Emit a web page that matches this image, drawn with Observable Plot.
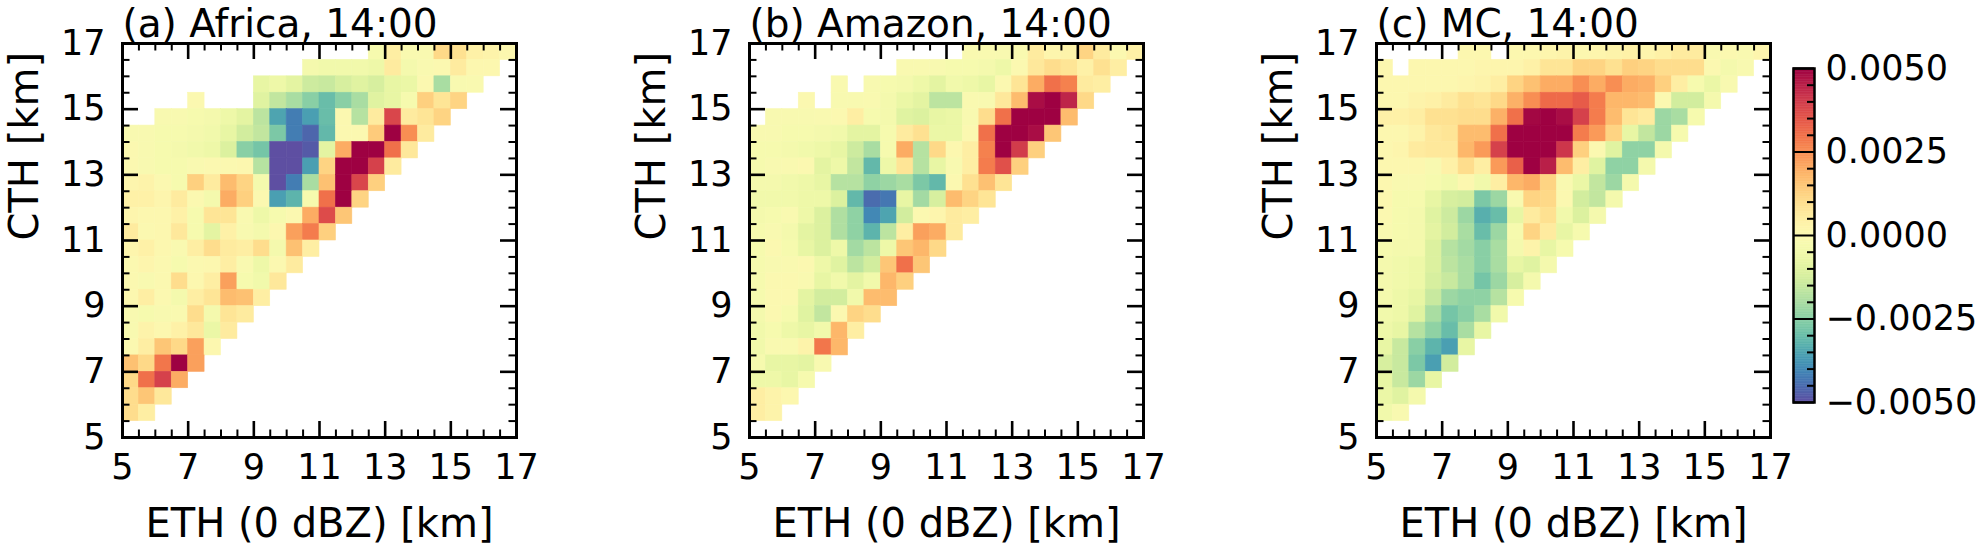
<!DOCTYPE html>
<html>
<head>
<meta charset="utf-8">
<script src="https://cdn.jsdelivr.net/npm/d3@7"></script>
<script src="https://cdn.jsdelivr.net/npm/@observablehq/plot@0.6"></script>
<style>
  html, body { margin: 0; padding: 0; background: #fff; }
  #chart { position: relative; width: 1978px; height: 550px; overflow: hidden; background: #fff; }
  #chart svg { position: absolute; top: 0; overflow: visible; }
</style>
</head>
<body>
<div id="chart"></div>
<script>
// ---------------- DATA ----------------
// Each panel: rows of 0.5 km CTH bins from the top (16.5–17 km) downwards.
// Each row = [index of first ETH bin (0 => 5–5.5 km), value, value, ...]; null = empty bin.
// Values in units of 1e-3.
const panelTitles = ["(a) Africa, 14:00", "(b) Amazon, 14:00", "(c) MC, 14:00"];
const xLabel = "ETH (0 dBZ) [km]";
const yLabel = "CTH [km]";
const axisTicks = [5, 7, 9, 11, 13, 15, 17];
const colorbarTicks = [-5, -2.5, 0, 2.5, 5];

const africa = [
  [15, -0.3, 0.5, -0.1, -0.1, 1.1, 0.9, 0.4, 0.3, 0.1],
  [11, -0.4, -0.5, -0.5, -0.5, -0.6, 0.6, -0.4, -0.1, 0, 0.6, 0.1, 0.1],
  [8, -0.8, -0.6, -0.9, -1.4, -1.5, -1.2, -1.0, -1.2, -0.8, -0.7, 0, -2.0, -0.2, -0.1],
  [4, 0, null, null, null, -1.0, -1.6, -2.0, -2.5, -3.0, -2.5, -2.0, -1.0, -0.8, -0.3, 1.3, 0.8, 1.2],
  [2, -0.2, -0.2, -0.3, -0.4, -0.6, -0.9, -1.7, -3.5, -4.2, -3.6, -3.0, 0, -1.8, 0.6, 3.8, 0.6, 0.8, 1.2],
  [0, -0.2, -0.2, -0.3, -0.3, -0.4, -0.5, -0.8, -1.3, -1.6, -2.7, -4.2, -4.6, -3.1, 0, 0, 1.4, 5, 2.5, 0.6],
  [0, 0, -0.2, -0.3, -0.4, -0.5, -0.6, -1.1, -2.5, -2.8, -5, -5, -4.8, -0.9, 2.0, 5, 5, 3.0, 0.7],
  [0, 0, -0.2, -0.3, -0.3, -0.1, 0, 0, 0.1, -1.8, -5, -5, -3.6, 1.2, 5, 5, 3.9, 0.6],
  [0, 0.2, 0.3, 0, -0.3, 1.3, 0.6, 1.7, 1.2, -0.4, -5, -4.2, -2.0, 1.6, 5, 3.8, 1.3],
  [0, 0.4, 0.4, 0.2, 0.6, 0, -0.4, 2.0, 1.3, 0, -3.6, -3.2, -0.3, 3.0, 5, 1.2],
  [0, 0.2, 0.1, 0.1, 0.4, -0.3, 0.8, 0.8, -0.1, -0.6, -0.3, 0, 2.0, 3.7, 1.5],
  [0, 0.6, 0, 0.1, 0.7, -0.3, -0.9, 0.4, -0.2, -0.4, 0.1, 2.2, 2.8, 1.3],
  [0, 0.2, 0.4, 0.1, -0.1, 0.5, 1.0, 0.6, 0.5, 1.0, -0.4, 1.6, 0.5],
  [0, 0, 0.2, 0, -0.3, 0, 0.1, 0.5, -0.1, -0.6, 0, 0.6],
  [0, 0, -0.2, 0, 1.0, 0.1, 0.5, 2.2, -0.3, -0.5, 0.7],
  [0, 0.1, 0.5, 0, -0.4, 0.5, 0.8, 1.7, 1.6, 0.5],
  [0, -0.2, -0.3, -0.2, -0.1, 1.0, -0.4, 0.8, 0.6],
  [0, -0.2, 0.3, 0.1, 0.4, 0.7, -0.7, 0.6],
  [0, 0, 0.5, 1.5, 1.1, 2.2, 0.1],
  [0, 1.6, 1.1, 2.9, 5, 2.2],
  [0, 1.1, 3.0, 3.9, 2.0],
  [0, 1.0, 1.5, 0.7],
  [0, 1.0, 0.5]
];

const amazon = [
  [13, -0.1, -0.1, -0.2, -0.1, 0.6, 0.2, 0.3, 1.2, 0.6, 0, 0.4],
  [9, -0.1, -0.1, -0.2, -0.3, -0.3, -0.4, -0.6, 0, 0.7, 1.0, 0.8, 0.4, 0.9, 0.5],
  [5, -0.1, null, -0.2, -0.3, -0.4, -0.6, -0.9, -0.5, -0.6, -0.8, 0, 0.8, 2.0, 3.0, 2.7, 0.6, 0.5],
  [3, 0, null, -0.2, -0.2, -0.1, -0.4, -0.7, -0.9, -1.7, -1.7, -0.1, -0.2, 0.7, 1.7, 4.8, 5, 4.4, 1.1],
  [1, -0.2, -0.2, -0.2, -0.1, 0, 0.5, -0.3, -0.4, -1.0, -1.1, -0.8, -0.7, -0.2, 1.0, 3.0, 5, 5, 5, 1.7],
  [0, -0.2, -0.2, -0.3, -0.3, -0.4, -0.5, -0.9, -0.9, -0.3, 0.6, 0.9, -0.7, -0.7, 0, 3.0, 5, 5, 4.8, 1.5],
  [0, -0.3, -0.3, -0.4, -0.5, -0.6, -0.8, -1.4, -2.0, -0.3, 2.0, -1.8, 1.1, 0.1, 0.5, 2.7, 5, 4.0, 1.3],
  [0, -0.3, -0.2, -0.1, 0, -0.9, -0.6, -1.6, -3.1, -0.6, 0.8, -1.8, -0.8, -0.2, 0.5, 2.8, 3.6, 1.3],
  [0, -0.4, -0.4, -0.5, -0.6, -0.8, -1.8, -1.8, -2.4, -2.2, -2.0, -2.7, -3.1, 0, 0.9, 1.6, 0.8],
  [0, -0.5, -0.5, -0.5, -0.6, -0.6, -1.1, -3.1, -4.5, -4.3, -0.8, -2.1, -1.2, 1.7, 1.2, 0.8],
  [0, -0.4, -0.3, -0.1, -0.6, -1.1, -1.9, -2.4, -4.0, -3.5, -1.3, 0, 0.2, 0.6, 0.5],
  [0, -0.3, -0.2, -0.4, -0.9, -1.1, -1.9, -2.4, -3.2, -1.7, 0.5, 2.2, 2.0, 0.6],
  [0, -0.3, 0, -0.3, -0.8, -1.1, -0.6, -2.1, -1.7, -0.6, 1.5, 1.8, 1.1],
  [0, -0.3, -0.2, -0.1, 0, -0.6, -1.0, -1.7, -1.3, 1.5, 3.0, 1.5],
  [0, -0.3, 0, 0, -0.1, -0.8, -0.5, -0.9, -0.5, 1.8, 1.3],
  [0, -0.3, 0, 0, -0.9, -1.3, -1.3, -0.5, 1.7, 1.7],
  [0, -0.4, 0, -0.3, -1.0, -1.6, 0, 1.2, 1.0],
  [0, -0.5, -0.3, -0.6, -0.8, -0.5, 1.8, 0.5],
  [0, -0.5, -0.1, -0.1, 0.3, 2.9, 1.8],
  [0, -0.3, -0.8, -0.8, -0.9, -0.2],
  [0, -0.6, -0.6, -0.8, -0.3],
  [0, 0.5, 0.3, 0.1],
  [0, 0.5, 0.3]
];

const mc = [
  [5, 0.1, 0.1, null, 0.1, 0.1, 0.2, 0.3, 0.1, 0.2, 0.3, 0.4, 0.2, 0.4, 0.6, 0.6, -0.1, 0, -0.1, 0.2],
  [0, 0.1, null, 0.1, 0.1, 0.1, 0.1, 0.2, 0.2, 0.2, 0.4, 0.8, 0.8, 1.2, 1.2, 0.9, 1.3, 1.2, 1.0, 1.0, 1.0, 0, -0.4, -0.2],
  [0, 0.1, 0.1, 0.1, 0.1, 0.1, 0.2, 0.3, 0.5, 1.2, 1.6, 2.0, 2.0, 2.5, 2.0, 2.5, 2.0, 1.9, 1.3, 0.5, -0.3, -0.7, -0.2],
  [0, 0.1, 0.1, 0.3, 0.4, 0.6, 0.9, 0.8, 1.1, 1.9, 2.5, 3.1, 3.1, 3.4, 2.8, 1.8, 1.8, 1.7, 0, -1.3, -1.3, -0.4],
  [0, 0.4, 0.4, 0.5, 0.9, 0.9, 1.0, 1.0, 1.9, 3.0, 4.9, 5, 4.8, 3.9, 2.8, 1.7, 0.8, 0.6, -2.2, -2.0, -0.3],
  [0, 0.1, 0.1, 0.3, 0.7, 0.8, 1.7, 1.7, 3.0, 5, 5, 5, 5, 2.8, 2.3, 1.2, -0.8, -1.6, -2.2, -0.3],
  [0, 0.1, 0.2, 0.6, 0.7, 0.7, 1.8, 2.3, 3.9, 5, 5, 5, 4.1, 1.3, 0, -1.0, -2.4, -2.4, -0.4],
  [0, 0.1, 0.1, 0.1, -0.2, 0.4, 1.0, 0.5, 2.3, 3.3, 5, 4.5, 1.7, 0.5, -1.0, -2.4, -2.4, -0.4],
  [0, 0.1, -0.1, -0.1, -0.3, -0.5, 0.1, -0.5, 0.5, 1.8, 2.0, 1.2, -0.1, -0.7, -1.6, -2.2, -0.4],
  [0, 0.1, -0.3, -0.3, -0.8, -1.2, -1.3, -2.7, -2.2, -0.2, 1.2, 1.1, 0, -1.3, -1.6, -0.4],
  [0, 0, -0.3, -0.4, -1.0, -1.4, -2.2, -3.3, -3.0, -0.8, 0.6, 0.9, -0.5, -1.1, -0.4],
  [0, -0.1, -0.3, -0.4, -0.9, -1.3, -2.0, -3.0, -2.2, -0.3, 1.2, 0.6, -0.8, -0.3],
  [0, -0.3, -0.4, -0.4, -1.1, -1.8, -2.1, -2.5, -2.0, -0.4, 0.3, -0.8, -0.3],
  [0, -0.4, -0.5, -0.6, -1.1, -1.7, -2.0, -2.5, -2.0, -0.8, -1.0, -0.4],
  [0, -0.4, -0.5, -0.6, -1.2, -1.5, -2.0, -2.8, -2.2, -1.2, -0.4],
  [0, -0.4, -0.6, -0.8, -1.5, -2.2, -2.4, -2.4, -1.8, -0.3],
  [0, -0.5, -0.6, -1.0, -2.0, -2.8, -2.5, -2.0, -0.5],
  [0, -0.6, -0.8, -1.8, -2.4, -3.0, -2.0, -0.8],
  [0, -0.8, -1.5, -2.5, -3.2, -3.6, -0.8],
  [0, -1.2, -1.5, -2.7, -3.6, -1.3],
  [0, -0.8, -1.5, -2.2, -0.8],
  [0, -0.7, -1.0, -0.4],
  [0, -0.5, -0.2]
];

const panelData = [africa, amazon, mc];

// ---------------- BUILD ----------------
const binOrigin = 5, binTop = 17, binWidth = 0.5;
function toCells(rows) {
  const out = [];
  rows.forEach((row, j) => {
    const [start, ...vals] = row;
    vals.forEach((v, k) => {
      if (v == null) return;
      const i = start + k;
      out.push({
        x1: binOrigin + i * binWidth, x2: binOrigin + (i + 1) * binWidth,
        y2: binTop - j * binWidth, y1: binTop - (j + 1) * binWidth, v
      });
    });
  });
  return out;
}

const FONT = "'DejaVu Sans', 'Liberation Sans', Arial, sans-serif";
const TICK_FS = 35, LABEL_FS = 40, TITLE_FS = 39;
const colorScale = {type: "linear", scheme: "spectral", reverse: true, domain: [-5, 5], clamp: true};
const minorTicks = d3.range(5, 17.001, 0.5).filter(d => !axisTicks.includes(d));

const FW = 394, FH = 394;   // frame size in px
const PANEL_W = 627;

function tickMarks(vals, len, w) {
  const o = {stroke: "black", strokeWidth: w};
  return [
    Plot.ruleX(vals, {x: d => d, insetBottom: FH - len, ...o}),
    Plot.ruleX(vals, {x: d => d, insetTop: FH - len, ...o}),
    Plot.ruleY(vals, {y: d => d, insetRight: FW - len, ...o}),
    Plot.ruleY(vals, {y: d => d, insetLeft: FW - len, ...o})
  ];
}

function panel(rows, title) {
  const cells = toCells(rows);
  return Plot.plot({
    width: PANEL_W, height: 550,
    marginLeft: 122, marginRight: PANEL_W - 122 - FW, marginTop: 43, marginBottom: 550 - 43 - FH,
    x: {domain: [5, 17]},
    y: {domain: [5, 17]},
    color: colorScale,
    style: {fontFamily: FONT, background: "transparent", overflow: "visible"},
    marks: [
      Plot.rect(cells, {x1: "x1", x2: "x2", y1: "y1", y2: "y2", fill: "v", stroke: "v", strokeWidth: 0.6}),
      ...tickMarks(minorTicks, 7.5, 2),
      ...tickMarks(axisTicks, 16, 2.6),
      Plot.frame({stroke: "black", strokeWidth: 3}),
      Plot.axisX(axisTicks, {anchor: "bottom", tickSize: 0, tickPadding: 17, fontSize: TICK_FS, label: null, fill: "black"}),
      Plot.axisY(axisTicks, {anchor: "left", tickSize: 0, tickPadding: 17, fontSize: TICK_FS, label: null, fill: "black"}),
      Plot.text([title], {text: d => d, frameAnchor: "top-left", dy: -6.5, lineAnchor: "bottom", textAnchor: "start", fontSize: TITLE_FS, fill: "black"}),
      Plot.text([yLabel], {text: d => d, frameAnchor: "left", dx: -84.5, rotate: -90, lineAnchor: "bottom", fontSize: LABEL_FS, fill: "black"}),
      Plot.text([xLabel], {text: d => d, frameAnchor: "bottom", dy: 71, lineAnchor: "top", fontSize: LABEL_FS, fill: "black"})
    ]
  });
}

const chart = document.getElementById("chart");
panelData.forEach((rows, k) => {
  const svg = panel(rows, panelTitles[k]);
  svg.style.left = (k * PANEL_W) + "px";
  chart.appendChild(svg);
});

// colour bar
const cbStep = 0.05;
const cbValues = d3.range(-5, 5 - 1e-9, cbStep);
const cbMinor = d3.range(-5, 5.001, 0.5).filter(d => !colorbarTicks.some(t => Math.abs(t - d) < 1e-9));
const CB_W = 21, CB_LEFT = 93, CB_SVG_W = 278;
const fmt = d => (d / 1000).toFixed(4).replace("-", "\u2212");
const cb = Plot.plot({
  width: CB_SVG_W, height: 550,
  marginLeft: CB_LEFT, marginRight: CB_SVG_W - CB_LEFT - CB_W, marginTop: 68, marginBottom: 148,
  y: {domain: [-5, 5]},
  color: colorScale,
  style: {fontFamily: FONT, background: "transparent", overflow: "visible"},
  marks: [
    Plot.rect(cbValues, {y1: d => d, y2: d => d + cbStep, fill: d => d + cbStep / 2, stroke: d => d + cbStep / 2, strokeWidth: 0.5}),
    Plot.ruleY(cbMinor, {y: d => d, insetLeft: CB_W - 7, stroke: "black", strokeWidth: 2}),
    Plot.ruleY(colorbarTicks, {y: d => d, stroke: "black", strokeWidth: 2}),
    Plot.frame({stroke: "black", strokeWidth: 2.5}),
    Plot.axisY(colorbarTicks, {anchor: "right", tickSize: 0, tickPadding: 11, fontSize: TICK_FS, tickFormat: fmt, label: null, fill: "black"})
  ]
});
cb.style.left = "1700px";
chart.appendChild(cb);
</script>
</body>
</html>
